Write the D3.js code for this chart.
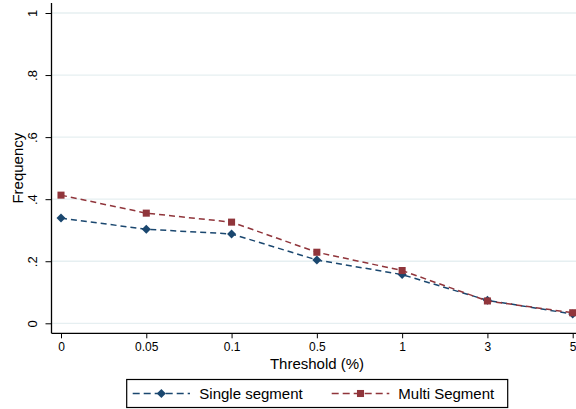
<!DOCTYPE html>
<html>
<head>
<meta charset="utf-8">
<script src="https://cdn.jsdelivr.net/npm/d3@7"></script>
<style>
  html, body { margin: 0; padding: 0; background: #ffffff; }
  svg { display: block; font-family: "Liberation Sans", Arial, Helvetica, sans-serif; }
</style>
</head>
<body>
<svg id="chart" width="576" height="409"></svg>
<script>
// Threshold categories on the x axis
const thresholds = ["0", "0.05", "0.1", "0.5", "1", "3", "5"];
// Frequency by threshold
const singleSegment = [0.339, 0.303, 0.288, 0.204, 0.157, 0.074, 0.030];
const multiSegment  = [0.413, 0.355, 0.326, 0.229, 0.170, 0.072, 0.034];
// Y axis ticks and their labels
const yTicks = [0, 0.2, 0.4, 0.6, 0.8, 1];
const yTickLabels = ["0", ".2", ".4", ".6", ".8", "1"];

const seriesList = [
  { name: "Single segment", values: singleSegment, color: "#1a476f", marker: "diamond" },
  { name: "Multi Segment",  values: multiSegment,  color: "#90353b", marker: "square" }
];

const W = 576, H = 409;
const plot = { left: 51.5, right: 584, top: 3, bottom: 333.3 };

const svg = d3.select("#chart");

const x = d3.scalePoint()
  .domain(thresholds)
  .range([61, 572.7]);

const y = d3.scaleLinear()
  .domain([0, 1])
  .range([323.3, 13]);

// Horizontal grid lines
svg.append("g")
  .selectAll("line")
  .data(yTicks)
  .join("line")
  .attr("x1", plot.left)
  .attr("x2", W)
  .attr("y1", d => y(d))
  .attr("y2", d => y(d))
  .attr("stroke", "#e6eff1")
  .attr("stroke-width", 1.3);

// Y axis
const yAxis = d3.axisLeft(y)
  .tickValues(yTicks)
  .tickFormat((d, i) => yTickLabels[i])
  .tickSize(6)
  .tickPadding(0);

const gy = svg.append("g")
  .attr("transform", `translate(${plot.left},0)`)
  .call(yAxis);
gy.select(".domain").remove();
gy.selectAll(".tick line").attr("stroke", "#000").attr("stroke-width", 1);
gy.selectAll(".tick text")
  .attr("x", 0).attr("y", 0).attr("dy", null)
  .attr("transform", "translate(-19.5,0) rotate(-90)")
  .attr("text-anchor", "middle")
  .attr("dominant-baseline", "central")
  .attr("font-size", 13)
  .attr("font-family", "Liberation Sans, Arial, sans-serif")
  .attr("fill", "#000");
gy.append("line")
  .attr("x1", 0).attr("x2", 0)
  .attr("y1", plot.top).attr("y2", plot.bottom)
  .attr("stroke", "#000").attr("stroke-width", 1.3);

// X axis
const xAxis = d3.axisBottom(x)
  .tickSize(5)
  .tickPadding(4);

const gx = svg.append("g")
  .attr("transform", `translate(0,${plot.bottom})`)
  .call(xAxis);
gx.select(".domain").remove();
gx.selectAll(".tick line").attr("stroke", "#000").attr("stroke-width", 1);
gx.selectAll(".tick text")
  .attr("font-size", 12)
  .attr("font-family", "Liberation Sans, Arial, sans-serif")
  .attr("fill", "#000");
gx.append("line")
  .attr("x1", plot.left).attr("x2", W)
  .attr("y1", 0).attr("y2", 0)
  .attr("stroke", "#000").attr("stroke-width", 1.3);

// Axis titles
svg.append("text")
  .attr("x", 317)
  .attr("y", 363.5)
  .attr("text-anchor", "middle")
  .attr("dominant-baseline", "central")
  .attr("font-size", 15)
  .text("Threshold (%)");

svg.append("text")
  .attr("transform", `translate(17.5,${(y(0) + y(1)) / 2}) rotate(-90)`)
  .attr("text-anchor", "middle")
  .attr("dominant-baseline", "central")
  .attr("font-size", 15)
  .text("Frequency");

// Marker shapes
const diamond = d3.symbol().type(d3.symbolDiamond2).size(52);
const square = d3.symbol().type(d3.symbolSquare).size(50);

function drawMarker(g, kind, color) {
  if (kind === "diamond") {
    g.append("path").attr("d", diamond()).attr("fill", color);
  } else {
    g.append("path").attr("d", square()).attr("fill", color);
  }
}

// Series lines and markers
const line = d3.line()
  .x((d, i) => x(thresholds[i]))
  .y(d => y(d));

seriesList.forEach(s => {
  const g = svg.append("g");
  g.append("path")
    .datum(s.values)
    .attr("d", line)
    .attr("fill", "none")
    .attr("stroke", s.color)
    .attr("stroke-width", 1.5)
    .attr("stroke-dasharray", "6,4");
  s.values.forEach((v, i) => {
    const m = g.append("g").attr("transform", `translate(${x(thresholds[i])},${y(v)})`);
    drawMarker(m, s.marker, s.color);
  });
});

// Legend
const legend = svg.append("g");
legend.append("rect")
  .attr("x", 126.7).attr("y", 379.5)
  .attr("width", 381).attr("height", 28)
  .attr("fill", "#fff")
  .attr("stroke", "#000")
  .attr("stroke-width", 1.2);

const legendItems = [
  { s: seriesList[0], x0: 132.7, x1: 190, tx: 199.3 },
  { s: seriesList[1], x0: 331.7, x1: 389.3, tx: 398.3 }
];
const ly = 393.5;
legendItems.forEach(it => {
  legend.append("line")
    .attr("x1", it.x0).attr("x2", it.x1)
    .attr("y1", ly).attr("y2", ly)
    .attr("stroke", it.s.color)
    .attr("stroke-width", 1.5)
    .attr("stroke-dasharray", "7,4");
  const m = legend.append("g").attr("transform", `translate(${(it.x0 + it.x1) / 2},${ly})`);
  drawMarker(m, it.s.marker, it.s.color);
  legend.append("text")
    .attr("x", it.tx).attr("y", ly)
    .attr("dominant-baseline", "central")
    .attr("font-size", 15)
    .text(it.s.name);
});
</script>
</body>
</html>
